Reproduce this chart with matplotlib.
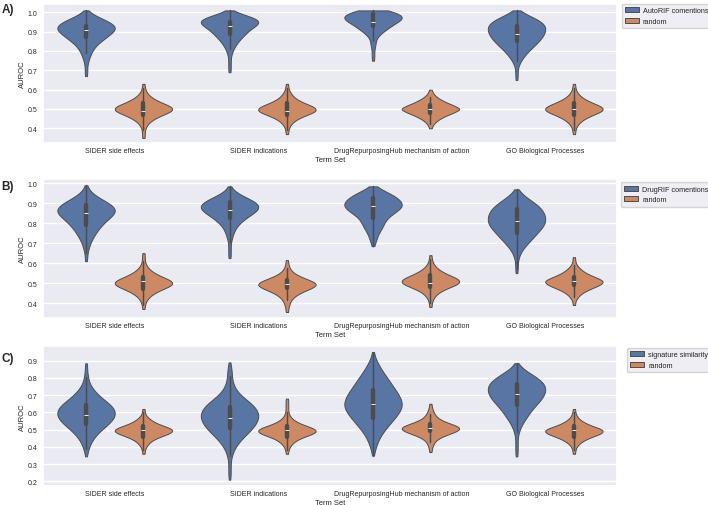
import numpy as np
import pandas as pd
import matplotlib
matplotlib.use("Agg")
import matplotlib.pyplot as plt
import seaborn as sns

term_sets = ["SIDER side effects", "SIDER indications",
             "DrugRepurposingHub mechanism of action", "GO Biological Processes"]

# AUROC values are binned at 0.02: lowest bin value per term set + number of runs per bin
bin_step = 0.02

# panel A: AutoRIF comentions vs random
a_method_lo = [0.67, 0.69, 0.75, 0.65]
a_method_counts = [
    [1, 1, 1, 1, 2, 3, 4, 6, 8, 12, 16, 20, 24, 24, 19, 12, 5, 1],
    [1, 1, 1, 1, 1, 2, 3, 5, 7, 10, 13, 16, 21, 26, 22, 10, 1],
    [1, 1, 1, 1, 2, 2, 3, 6, 10, 14, 19, 24, 22, 12],
    [1, 1, 1, 1, 2, 4, 6, 9, 12, 16, 19, 22, 24, 25, 25, 22, 16, 8, 2],
]
a_random_lo = [0.35, 0.37, 0.40, 0.37]
a_random_counts = [
    [1, 1, 1, 2, 4, 8, 14, 22, 22, 14, 8, 4, 2, 1, 1],
    [1, 1, 2, 4, 8, 15, 23, 21, 13, 7, 4, 2, 1, 1],
    [1, 2, 5, 10, 17, 24, 17, 10, 5, 2, 1],
    [1, 1, 2, 4, 8, 14, 22, 22, 14, 8, 4, 2, 1, 1],
]

# panel B: DrugRIF comentions vs random
b_method_lo = [0.61, 0.625, 0.685, 0.55]
b_method_counts = [
    [1, 1, 1, 2, 3, 4, 6, 8, 10, 13, 16, 20, 24, 25, 22, 16, 10, 5, 2, 1],
    [1, 1, 1, 1, 1, 2, 3, 4, 6, 9, 13, 18, 23, 25, 22, 15, 8, 3, 1],
    [1, 2, 3, 4, 6, 8, 9, 11, 15, 20, 24, 23, 20, 15, 8, 2],
    [1, 1, 1, 1, 2, 3, 5, 8, 11, 14, 17, 20, 23, 24, 24, 23, 21, 18, 13, 8, 4, 1],
]
b_random_lo = [0.37, 0.355, 0.38, 0.39]
b_random_counts = [
    [1, 1, 2, 4, 8, 14, 22, 22, 14, 8, 4, 2, 1, 1, 1],
    [1, 1, 2, 3, 6, 11, 19, 24, 17, 9, 4, 2, 1, 1],
    [1, 1, 2, 4, 8, 15, 23, 22, 14, 8, 4, 2, 1, 1],
    [1, 1, 3, 6, 12, 20, 24, 16, 9, 5, 2, 1, 1],
]

# panel C: signature similarity vs random
c_method_lo = [0.345, 0.21, 0.35, 0.345]
c_method_counts = [
    [1, 1, 2, 3, 4, 6, 8, 11, 14, 18, 21, 24, 25, 25, 24, 21, 17, 13, 10, 7, 5, 3, 2, 2,
     1, 1, 1, 1],
    [1, 1, 1, 1, 1, 1, 1, 2, 3, 4, 6, 8, 11, 14, 17, 20, 22, 24, 25, 25, 24, 22, 19, 15,
     11, 8, 5, 4, 3, 2, 2, 2, 2, 1, 1],
    [1, 1, 2, 3, 4, 5, 7, 9, 11, 14, 16, 19, 21, 23, 25, 25, 24, 23, 21, 19, 17, 15, 13,
     11, 9, 7, 5, 4, 2, 1, 1],
    [1, 1, 1, 1, 1, 1, 1, 2, 3, 4, 6, 8, 10, 12, 14, 17, 20, 22, 24, 25, 25, 24, 21, 17,
     12, 7, 3, 1],
]
c_random_lo = [0.36, 0.36, 0.37, 0.36]
c_random_counts = [
    [1, 1, 2, 4, 7, 13, 21, 24, 16, 9, 5, 2, 1, 1],
    [1, 1, 2, 4, 7, 13, 22, 24, 15, 8, 4, 2, 1, 1, 1, 1, 1],
    [1, 1, 2, 3, 6, 12, 20, 24, 17, 9, 5, 3, 2, 1, 1],
    [1, 1, 2, 4, 8, 14, 22, 23, 14, 8, 4, 2, 1, 1],
]

panels = [
    ("A)", "AutoRIF comentions", a_method_lo, a_method_counts, a_random_lo, a_random_counts,
     (0.324, 1.043), [0.4, 0.5, 0.6, 0.7, 0.8, 0.9, 1.0]),
    ("B)", "DrugRIF comentions", b_method_lo, b_method_counts, b_random_lo, b_random_counts,
     (0.325, 1.022), [0.4, 0.5, 0.6, 0.7, 0.8, 0.9, 1.0]),
    ("C)", "signature similarity", c_method_lo, c_method_counts, c_random_lo, c_random_counts,
     (0.173, 0.985), [0.2, 0.3, 0.4, 0.5, 0.6, 0.7, 0.8, 0.9]),
]


def runs(lo, counts):
    vals = lo + bin_step * np.arange(len(counts))
    return np.repeat(vals, counts)


sns.set_theme(style="darkgrid")
plt.rcParams["font.family"] = ["Liberation Sans", "DejaVu Sans"]

fig = plt.figure(figsize=(7.08, 5.06), dpi=100)
rects = [[0.0607, 0.7154, 0.8107, 0.2747],
         [0.0607, 0.3696, 0.8107, 0.2747],
         [0.0607, 0.0375, 0.8107, 0.2767]]
label_y = [0.992, 0.643, 0.303]
legend_at = [(1.008, 1.0), (1.007, 0.976), (1.017, 0.986)]

for i, (tag, method, mlo, mcnt, rlo, rcnt, ylim, yt) in enumerate(panels):
    rows = []
    for t, lo1, c1, lo2, c2 in zip(term_sets, mlo, mcnt, rlo, rcnt):
        rows += [(t, method, v) for v in runs(lo1, c1)]
        rows += [(t, "random", v) for v in runs(lo2, c2)]
    df = pd.DataFrame(rows, columns=["Term Set", "method", "AUROC"])
    ax = fig.add_axes(rects[i])
    sns.violinplot(data=df, x="Term Set", y="AUROC", hue="method",
                   order=term_sets, hue_order=[method, "random"],
                   density_norm="width", cut=0, inner="box", bw_adjust=0.8,
                   linewidth=0.7, ax=ax)
    ax.set_ylim(*ylim)
    ax.set_yticks(yt)
    ax.set_yticklabels([f"{v:.1f}" for v in yt])
    ax.tick_params(axis="x", labelsize=5, length=0, pad=3)
    ax.tick_params(axis="y", labelsize=5, length=0, pad=4)
    ax.set_xlabel("Term Set", fontsize=5.5, labelpad=1)
    ax.set_ylabel("AUROC", fontsize=5.5, labelpad=1)
    h, l = ax.get_legend_handles_labels()
    ax.legend(h, l, loc="upper left", bbox_to_anchor=legend_at[i], fontsize=5.2,
              handlelength=1.9, handletextpad=0.6, borderpad=0.45, borderaxespad=0)
    fig.text(0.002, label_y[i], tag, fontsize=8.5, fontweight="bold", va="top")

fig.savefig("out.png", dpi=100)
